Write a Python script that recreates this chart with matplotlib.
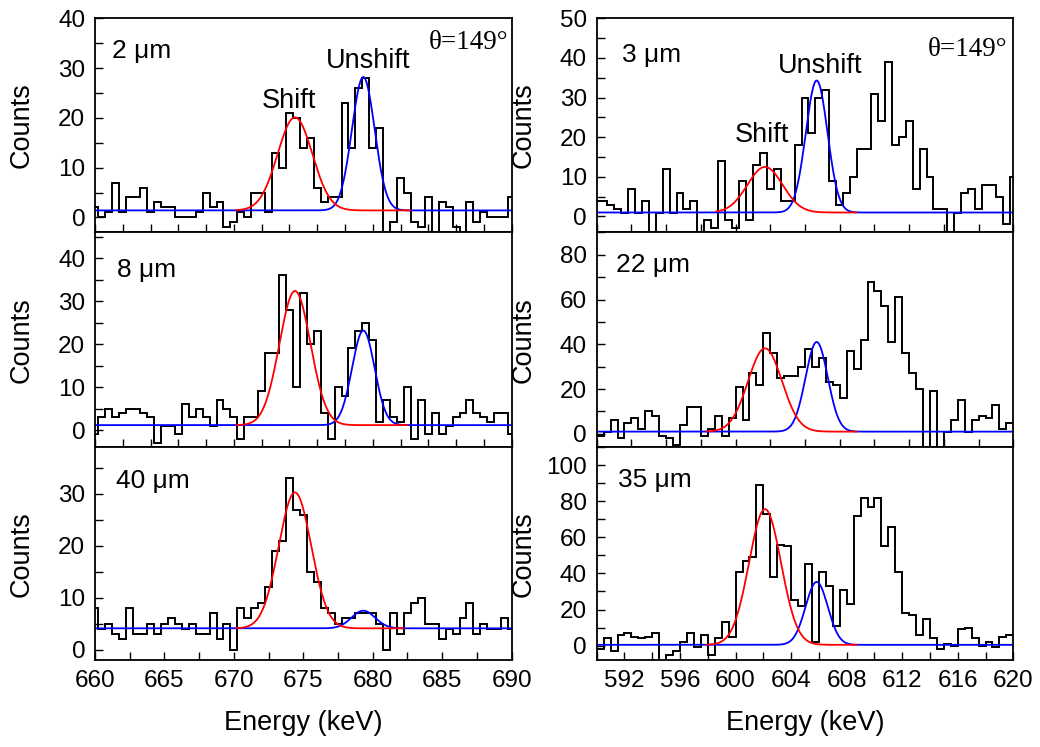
import numpy as np
import matplotlib
matplotlib.use("Agg")
import matplotlib.pyplot as plt
from matplotlib.ticker import MultipleLocator

plt.rcParams['font.family'] = ['Liberation Sans', 'DejaVu Sans']

# ---------------- data ----------------
# left column (theta=149 deg, 660-690 keV), bin centres 660.0 + 0.5 k
left_centers = 660.0 + 0.5 * np.arange(61)
counts_2um = [2, 0, 1, 7, 1, 4, 4, 6, 1, 3, 2, 2, 0, 0, 0, 1, 5, 2, 3, -2,
              -1, 1, 0, 5, 5, 1, 13, 10, 21, 20, 14, 16, 6, 3, 4, 4, 23, 14, 26, 28,
              14, 18, -5, -1, 8, 5, -1, -2, 4, -5, 3, 2, -2, -3, 3, -1, 1, 0, 0, 0, 4]
counts_8um = [-1, 3, 5, 3, 4, 5, 5, 4, 3, -3, 1, 1, -1, 6, 3, 5, 3, 1, 7, 5,
              3, -2, 3, 3, 9, 18, 18, 36, 28, 10, 32, 20, 23, 4, -2, 10, 8, 19, 23, 25,
              21, 2, 7, 3, 2, 10, -2, 7, -1, 4, -1, 1, 3, 4, 7, 4, 3, 2, 4, 4, -1]
counts_40um = [8, 4, 5, 3, 2, 8, 3, 3, 5, 3, 5, 6, 5, 4, 5, 3, 3, 7, 2, 5,
               0, 8, 6, 8, 9, 12, 19, 21, 33, 27, 26, 15, 13, 8, 7, 5, 6, 6, 7, 7,
               7, 5, 0, 7, 3, 7, 9, 10, 5, 5, 2, 4, 3, 6, 9, 3, 5, 4, 4, 6, 4]
# right column (590-620 keV)
r1_centers = 590.0 + 0.5 * np.arange(61)
counts_3um = [4, 4, 3, 2, 1, 7, 1, 4, -6, 1, 12, 1, 6, 2, 4, -6, -1, -3, 14, -1,
              -3, 9, -1, 13, 16, 7, 12, 4, 4, 18, 30, 21, 30, 32, 9, 3, 6, 10, 17, 17,
              31, 24, 39, 18, 20, 24, 7, 17, 10, 2, 2, -6, 1, 6, 7, 2, 8, 8, 5, -2, 10]
r2_centers = 590.25 + 0.5 * np.arange(60)
counts_22um = [-1, 1, 6, -2, 5, 7, 2, 10, 8, -1, -2, -5, 4, 12, 12, -1, 2, 8, -1, 7,
               21, 6, 27, 22, 45, 36, 25, 26, 26, 30, 38, 30, 34, 23, 22, 16, 37, 29, 42, 68,
               64, 57, 41, 61, 36, 27, 20, -8, 19, -8, 1, 6, 15, 1, 6, 8, 7, 13, 2, 5]
counts_35um = [-2, 4, -3, 6, 7, 5, 4, 5, 7, -10, -5, -3, 2, 7, -1, 6, -5, 4, 13, 5,
               41, 47, 49, 89, 73, 38, 56, 55, 25, 22, 45, 2, 41, 33, 11, 31, 23, 72, 82, 77,
               82, 55, 66, 41, 18, 17, 6, 15, 4, -2, 1, 0, 9, 10, 4, 0, 2, -1, 5, 6]

labels = ["2 μm", "8 μm", "40 μm", "3 μm", "22 μm", "35 μm"]
# fit parameters: baseline, (amp, centre, sigma) shifted, (amp, centre, sigma) unshifted
fit_base = [1.4, 1.16, 4.1, 1.0, 1.0, 0.4]
shift_amp = [18.7, 31.2, 26.2, 11.5, 37.2, 75.3]
shift_mu = [674.40, 674.40, 674.40, 602.12, 602.12, 602.12]
shift_sig = [1.25, 1.12, 1.17, 1.27, 1.22, 1.15]
unsh_amp = [26.8, 22.0, 3.4, 33.3, 40.0, 34.9]
unsh_mu = [679.32, 679.32, 679.32, 605.84, 605.84, 605.84]
unsh_sig = [0.82, 0.81, 0.85, 0.78, 0.80, 0.80]
red_range = [(670.2, 682.7), (670.2, 682.5), (670.2, 682.2),
             (598.6, 608.7), (597.9, 608.7), (597.9, 608.7)]
ylims = [(-3, 40), (-4, 46), (-2, 39), (-4, 50), (-6, 90), (-8, 110)]

# ---------------- figure ----------------
fig = plt.figure(figsize=(10.40, 7.47), dpi=100)
colL, colR, colW = 0.09135, 0.57375, 0.4006
rows = [(0.6890, 0.2865), (0.4012, 0.2878), (0.1165, 0.2847)]

panels = [
    (colL, rows[0], left_centers, counts_2um, (660, 690)),
    (colL, rows[1], left_centers, counts_8um, (660, 690)),
    (colL, rows[2], left_centers, counts_40um, (660, 690)),
    (colR, rows[0], r1_centers, counts_3um, (590, 620)),
    (colR, rows[1], r2_centers, counts_22um, (590, 620)),
    (colR, rows[2], r2_centers, counts_35um, (590, 620)),
]

label_pos = [(0.041, 0.813), (0.052, 0.7935), (0.05, 0.807),
             (0.061, 0.797), (0.046, 0.814), (0.052, 0.815)]

def gauss(x, b, a, m, s):
    return b + a * np.exp(-0.5 * ((x - m) / s) ** 2)

axes = []
for i, (l, (b, h), cen, cnt, xl) in enumerate(panels):
    ax = fig.add_axes([l, b, colW, h])
    axes.append(ax)
    cen = np.asarray(cen)
    edges = np.concatenate([cen - 0.25, [cen[-1] + 0.25]])
    ax.stairs(cnt, edges, baseline=None, color='black', lw=1.4)
    xb = np.linspace(xl[0], xl[1], 1200)
    ax.plot(xb, gauss(xb, fit_base[i], unsh_amp[i], unsh_mu[i], unsh_sig[i]),
            color='#0000ff', lw=1.3)
    xr = np.linspace(red_range[i][0], red_range[i][1], 600)
    ax.plot(xr, gauss(xr, fit_base[i], shift_amp[i], shift_mu[i], shift_sig[i]),
            color='#ff0000', lw=1.3)
    ax.set_xlim(*xl)
    ax.set_ylim(*ylims[i])
    for sp in ax.spines.values():
        sp.set_linewidth(1.3)
    ax.tick_params(which='both', direction='in', length=6, width=1.0,
                   top=False, right=False, labelsize=17.5, pad=7)
    ax.set_ylabel("Counts", fontsize=19.5)
    ax.yaxis.set_label_coords(-0.145, 0.5)
    ax.text(label_pos[i][0], label_pos[i][1], labels[i], transform=ax.transAxes,
            fontsize=19, ha='left', va='baseline')

# y ticks
for ax in axes[:4]:
    ax.yaxis.set_major_locator(MultipleLocator(10))
    ax.yaxis.set_minor_locator(MultipleLocator(5))
for ax in axes[4:]:
    ax.yaxis.set_major_locator(MultipleLocator(20))
    ax.yaxis.set_minor_locator(MultipleLocator(10))

# x ticks
for ax in axes[0:2]:
    ax.set_xticks(np.arange(660, 691, 2))
    ax.tick_params(labelbottom=False)
axes[2].set_xticks(np.arange(660, 691, 5))
axes[2].set_xticks(np.arange(662.5, 690, 5), minor=True)
for ax in axes[3:5]:
    ax.set_xticks(np.arange(590, 621, 2.5))
    ax.tick_params(labelbottom=False)
axes[5].set_xticks(np.arange(592, 621, 4))
axes[5].set_xticks(np.arange(590, 621, 2), minor=True)

for ax in (axes[2], axes[5]):
    ax.set_xlabel("Energy (keV)", fontsize=19.5)
    ax.xaxis.set_label_coords(0.5, -0.235)

# annotations
axes[0].text(0.4656, 0.579, "Shift", transform=axes[0].transAxes, fontsize=19.5,
             ha='center', va='baseline')
axes[0].text(0.655, 0.766, "Unshift", transform=axes[0].transAxes, fontsize=19.5,
             ha='center', va='baseline')
axes[0].text(0.992, 0.855, "θ=149°", transform=axes[0].transAxes, fontsize=19.5,
             ha='right', va='baseline', family=['Liberation Serif', 'DejaVu Serif'])
axes[3].text(0.3956, 0.42, "Shift", transform=axes[3].transAxes, fontsize=19.5,
             ha='center', va='baseline')
axes[3].text(0.536, 0.743, "Unshift", transform=axes[3].transAxes, fontsize=19.5,
             ha='center', va='baseline')
axes[3].text(0.985, 0.824, "θ=149°", transform=axes[3].transAxes, fontsize=19.5,
             ha='right', va='baseline', family=['Liberation Serif', 'DejaVu Serif'])

fig.savefig("out.png", dpi=100)
